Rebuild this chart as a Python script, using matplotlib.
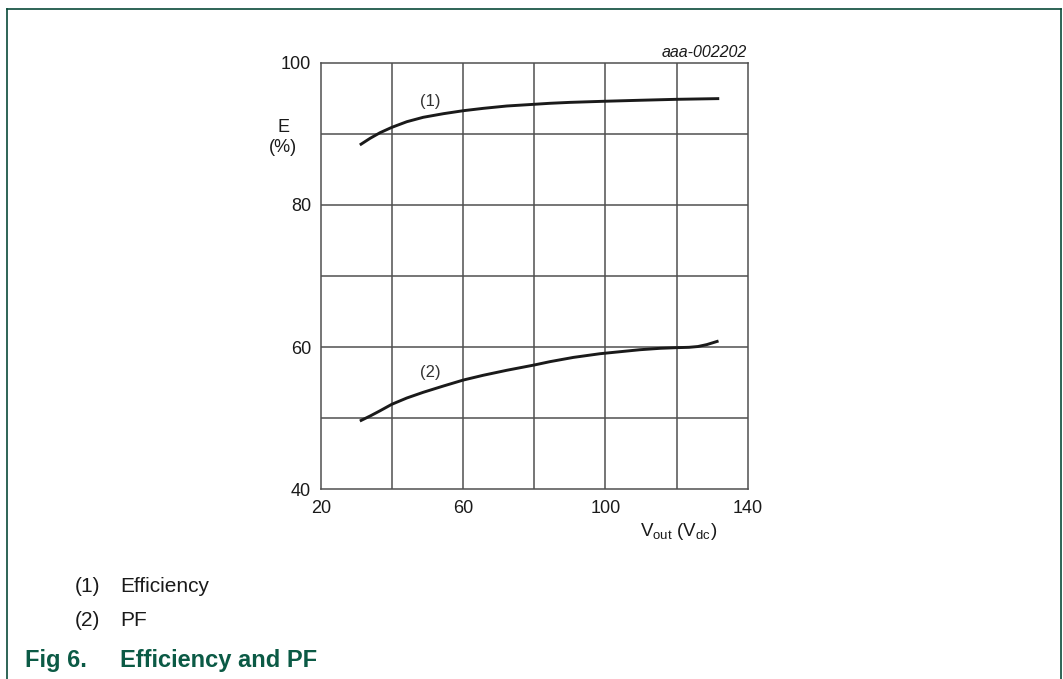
import matplotlib
matplotlib.use("Agg")
import matplotlib.pyplot as plt

plt.rcParams["font.family"] = ["Liberation Sans", "DejaVu Sans"]
plt.rcParams["mathtext.fontset"] = "custom"
plt.rcParams["mathtext.rm"] = "Liberation Sans"

# curve (1): efficiency, curve (2): power factor
EFF_X = [31.0, 33.9, 36.7, 40.0, 44.2, 48.8, 54.5, 60.1, 65.7, 72.3, 80.0, 84.4,
         90.0, 100.0, 110.0, 120.0, 132.0]
EFF_Y = [88.43, 89.37, 90.16, 90.91, 91.70, 92.32, 92.83, 93.25, 93.58, 93.91, 94.15, 94.29,
         94.42, 94.58, 94.72, 94.85, 94.95]
PF_X = [31.0, 33.9, 36.7, 40.0, 44.2, 48.8, 54.5, 60.1, 65.7, 72.3, 80.0, 84.4,
        91.0, 98.5, 104.1, 109.7, 115.4, 120.0, 123.5, 126.0, 128.5, 131.8]
PF_Y = [49.6, 50.31, 51.05, 51.96, 52.84, 53.64, 54.53, 55.37, 56.04, 56.74, 57.48, 57.95,
        58.55, 59.07, 59.35, 59.63, 59.83, 59.92, 59.97, 60.08, 60.35, 60.86]

X_TICKS = [20, 60, 100, 140]
Y_TICKS = [40, 60, 80, 100]
X_GRID = [40, 60, 80, 100, 120]
Y_GRID = [50, 60, 70, 80, 90]

GREEN = "#0b5a45"
FRAME = "#0a4a3a"
GRID = "#505050"
INK = "#1a1a1a"

fig = plt.figure(figsize=(10.63, 6.79), dpi=100)
W, H = 1063, 679

# outer frame (top, left, right)
for xs, ys in (([7.3, 1061.3], [9.3, 9.3]), ([7.3, 7.3], [9.3, 700]), ([1061.3, 1061.3], [9.3, 700])):
    fig.add_artist(plt.Line2D([x / W for x in xs], [1 - y / H for y in ys],
                              color=FRAME, lw=1.2, transform=fig.transFigure))

ax = fig.add_axes([320.7 / W, 1 - 489.3 / H, 427.0 / W, 426.6 / H])
ax.set_xlim(20, 140)
ax.set_ylim(40, 100)
for gx in X_GRID:
    ax.axvline(gx, color=GRID, lw=1.1, zorder=1)
for gy in Y_GRID:
    ax.axhline(gy, color=GRID, lw=1.1, zorder=1)
for s in ax.spines.values():
    s.set_color(GRID)
    s.set_linewidth(1.1)

ax.plot(EFF_X, EFF_Y, color=INK, lw=2.1, solid_capstyle="butt", solid_joinstyle="round", zorder=3)
ax.plot(PF_X, PF_Y, color=INK, lw=2.1, solid_capstyle="butt", solid_joinstyle="round", zorder=3)

ax.set_xticks(X_TICKS)
ax.set_yticks(Y_TICKS)
ax.tick_params(length=0, labelsize=13, colors=INK)
ax.tick_params(axis="x", pad=8)
ax.tick_params(axis="y", pad=7)

ax.text(50.8, 94.6, "(1)", fontsize=12, ha="center", va="center", color="#333333")
ax.text(50.8, 56.4, "(2)", fontsize=12, ha="center", va="center", color="#333333")

fig.text(746.7 / W, 1 - 52.7 / H, "aaa-002202", fontsize=11.5, style="italic",
         ha="right", va="center", color=INK)
fig.text(283 / W, 1 - 128 / H, "E", fontsize=13, ha="center", va="center", color=INK)
fig.text(283 / W, 1 - 148 / H, "(%)", fontsize=13, ha="center", va="center", color=INK)
fig.text(717 / W, 1 - 531 / H, r"V$_{\mathregular{out}}$ (V$_{\mathregular{dc}}$)",
         fontsize=13.5, ha="right", va="center", color=INK)

fig.text(75 / W, 1 - 587 / H, "(1)", fontsize=15, ha="left", va="center", color=INK)
fig.text(120 / W, 1 - 587 / H, "Efficiency", fontsize=15, ha="left", va="center", color=INK)
fig.text(75 / W, 1 - 620 / H, "(2)", fontsize=15, ha="left", va="center", color=INK)
fig.text(120 / W, 1 - 620 / H, "PF", fontsize=15, ha="left", va="center", color=INK)
fig.text(25 / W, 1 - 661 / H, "Fig 6.", fontsize=17, fontweight="bold", ha="left",
         va="center", color=GREEN)
fig.text(120 / W, 1 - 661 / H, "Efficiency and PF", fontsize=17, fontweight="bold",
         ha="left", va="center", color=GREEN)

fig.savefig("out.png", dpi=100)
